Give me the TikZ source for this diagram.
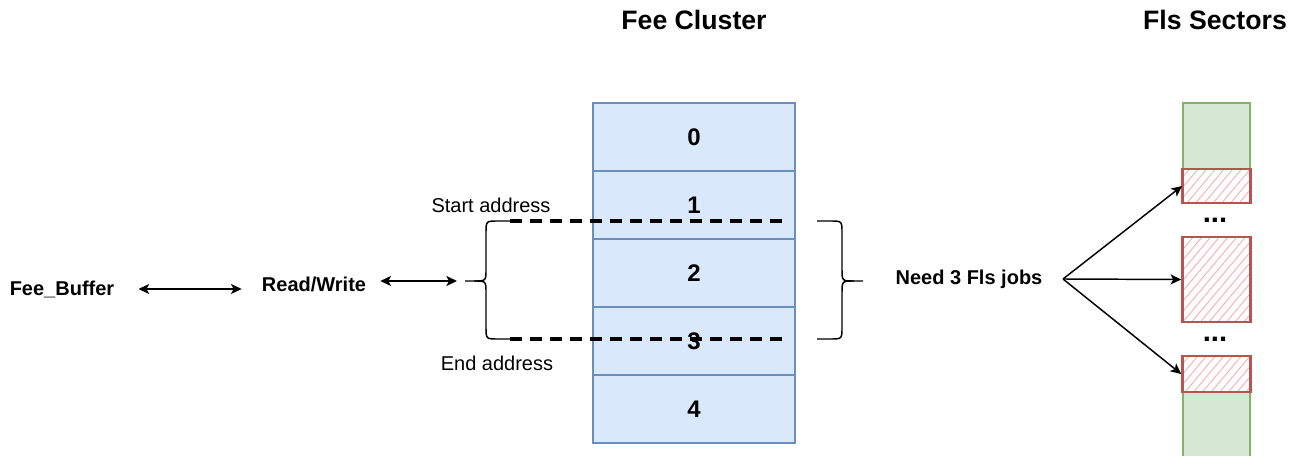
\documentclass[tikz,border=0pt]{standalone}
\usepackage{fontspec}
\setmainfont{Liberation Sans}
\usepackage{xcolor}
\usepackage{tikz}
\usetikzlibrary{arrows.meta,patterns.meta}

\definecolor{cellfill}{HTML}{DAE8FC}
\definecolor{celldraw}{HTML}{6C8EBF}
\definecolor{secfill}{HTML}{D5E8D4}
\definecolor{secdraw}{HTML}{82B366}
\definecolor{jobdraw}{HTML}{B85450}
\definecolor{jobhatch}{HTML}{F4B3B1}

\tikzset{
  cell/.style={draw=celldraw, fill=cellfill, line width=1.1pt, minimum width=151.5pt, minimum height=51pt, inner sep=0pt, font=\fontsize{18}{20}\selectfont\bfseries},
  sector/.style={draw=secdraw, fill=secfill, line width=1.1pt},
  job/.style={draw=jobdraw, line width=1.9pt, minimum width=51pt, inner sep=0pt, preaction={fill=white}, pattern={Lines[angle=50,distance=5pt,line width=0.7pt]}, pattern color=jobhatch},
  lbl/.style={inner sep=0pt, font=\fontsize{15}{17}\selectfont\bfseries},
  note/.style={inner sep=0pt, font=\fontsize{15}{17}\selectfont},
  title/.style={inner sep=0pt, font=\fontsize{20}{22}\selectfont\bfseries},
  biarrow/.style={line width=1.1pt, {Stealth[length=8pt,width=7.5pt,inset=2pt]}-{Stealth[length=8pt,width=7.5pt,inset=2pt]}},
  arr/.style={line width=1.1pt, -{Stealth[length=8pt,width=7.5pt,inset=2pt]}},
  brace/.style={line width=1.1pt},
  addr/.style={line width=2.3pt, dash pattern=on 9pt off 6pt}
}

\begin{document}
\begin{tikzpicture}[x=0.75pt,y=0.75pt,yscale=-1,xscale=1]
        \useasboundingbox (0,0) rectangle (1304,456);
        % titles
        \node[title] (clt) at (694,20) {Fee Cluster};
        \node[title] (sect) at (1215,20) {Fls Sectors};
        % cluster
        \foreach \i in {0,...,4}
          \node[cell] (c\i) at (694,{137+68*\i}) {\i};
        % sectors
        \draw[sector] (1183,169) -- (1183,103) -- (1250,103) -- (1250,169);
        \draw[sector] (1183,392) -- (1183,462) -- (1250,462) -- (1250,392);
        \node[job, minimum height=25.5pt] (s1) at (1216.5,186) {};
        \node[job, minimum height=63.75pt] (s2) at (1216.5,279.5) {};
        \node[job, minimum height=27pt] (s3) at (1216.5,374) {};
        \node[lbl, anchor=base, font=\fontsize{22}{24}\selectfont\bfseries] (d1) at (1215,223) {...};
        \node[lbl, anchor=base, font=\fontsize{22}{24}\selectfont\bfseries] (d2) at (1215,341) {...};
        % labels
        \node[lbl] (fb) at (62,289) {Fee\_Buffer};
        \node[lbl] (rw) at (314,284) {Read/Write};
        \node[lbl] (need) at (969,279) {Need 3 Fls jobs};
        \node[note] (sa) at (491,205) {Start address};
        \node[note] (ea) at (497,363) {End address};
        \coordinate (lt) at (510,221);
        \coordinate (lb) at (510,339);
        \coordinate (ltip) at (465,281);
        \coordinate (rt) at (817,221);
        \coordinate (rb) at (817,339);
        \coordinate (rtip) at (863,281);
        \coordinate (dt) at (785,221);
        \coordinate (db) at (785,339);
        \coordinate (fan) at (1063,279);
        % braces
        \draw[brace] (lt) -- (498,221) .. controls (486,221) .. (486,233) -- (486,269) .. controls (486,281) .. (474,281) -- (ltip);
        \draw[brace] (474,281) .. controls (486,281) .. (486,293) -- (486,327) .. controls (486,339) .. (498,339) -- (lb);
        \draw[brace] (rt) -- (830,221) .. controls (842,221) .. (842,233) -- (842,269) .. controls (842,281) .. (854,281) -- (rtip);
        \draw[brace] (854,281) .. controls (842,281) .. (842,293) -- (842,327) .. controls (842,339) .. (830,339) -- (rb);
        \draw[addr] (lt) -- (dt);
        \draw[addr] (lb) -- (db);
        % arrows
        \draw[biarrow, shorten <=18pt, shorten >=15pt] (fb.east) -- (fb.east -| rw.west);
        \draw[biarrow, shorten <=10.5pt, shorten >=6pt] (rw.east |- ltip) -- (ltip);
        \foreach \s in {s1,s2,s3}
          \draw[arr] (fan) -- (\s.west);
\end{tikzpicture}
\end{document}
